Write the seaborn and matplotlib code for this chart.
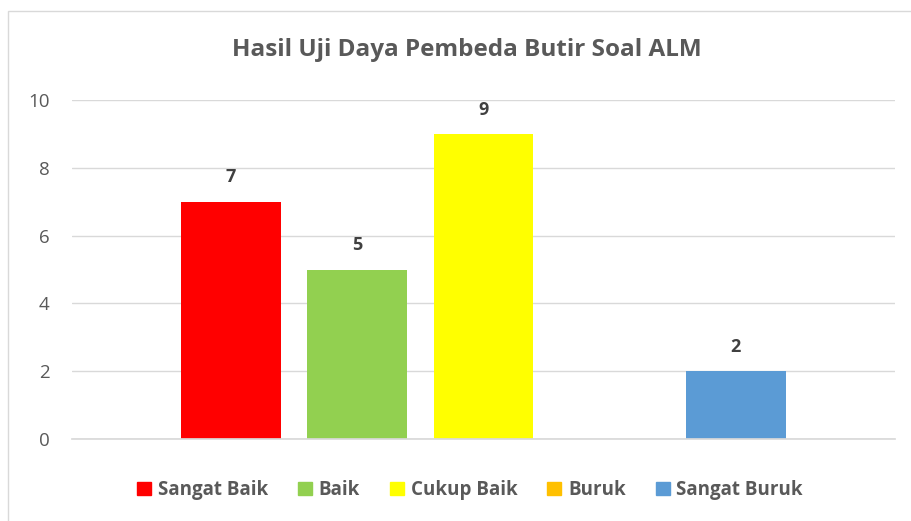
import matplotlib
matplotlib.use("Agg")
import matplotlib.pyplot as plt
import matplotlib.patches as mpatches
import seaborn as sns
import pandas as pd

# Data
kategori = ['Sangat Baik', 'Baik', 'Cukup Baik', 'Buruk', 'Sangat Buruk']
jumlah = [7, 5, 9, 0, 2]
warna = ['#FF0000', '#92D050', '#FFFF00', '#FFC000', '#5B9BD5']

df = pd.DataFrame({'Kategori': kategori, 'Jumlah': jumlah})

sns.set_theme(style="white")
plt.rcParams['font.family'] = ['Open Sans', 'DejaVu Sans']

fig = plt.figure(figsize=(9.11, 5.21), dpi=100)
ax = fig.add_axes([72/911, 1-439/521, (895-72)/911, (439-100)/521])

sns.barplot(data=df, x='Kategori', y='Jumlah', hue='Kategori', palette=warna,
            width=0.79, saturation=1, linewidth=0, legend=False, ax=ax)

ax.set_xlim(-1.26, 5.26)
ax.set_ylim(0, 10)
ax.set_yticks([0, 2, 4, 6, 8, 10])
ax.yaxis.grid(True, color='#D9D9D9', linewidth=1)
ax.set_axisbelow(True)
ax.set_xticks([])
ax.set_xlabel('')
ax.set_ylabel('')
for s in ['top', 'right', 'left']:
    ax.spines[s].set_visible(False)
ax.spines['bottom'].set_color('#D9D9D9')
ax.tick_params(axis='y', length=0, pad=16, labelsize=13.5, labelcolor='#595959')

# Label nilai
for i, v in enumerate(jumlah):
    if v > 0:
        ax.text(i, v + 0.45, str(v), ha='center', va='bottom', fontsize=13,
                fontweight='bold', color='#404040')

fig.suptitle('Hasil Uji Daya Pembeda Butir Soal ALM', x=0.512, y=1-50/521, va='center',
             fontsize=17.5, fontweight='bold', color='#595959')

handles = [mpatches.Patch(color=c, label=k) for k, c in zip(kategori, warna)]
fig.legend(handles=handles, loc='center', bbox_to_anchor=(0.516, 1-490/521), ncol=5,
           frameon=False, handlelength=0.75, handleheight=0.75, handletextpad=0.35,
           columnspacing=1.6, prop={'size': 13.5, 'weight': 'bold'}, labelcolor='#595959')

# Bingkai chart
fig.patches.append(mpatches.Rectangle((8/911, -0.1), 1.2, (521-11)/521 + 0.1,
                                      transform=fig.transFigure, fill=False,
                                      edgecolor='#D9D9D9', linewidth=1))

fig.savefig('out.png', dpi=100)
